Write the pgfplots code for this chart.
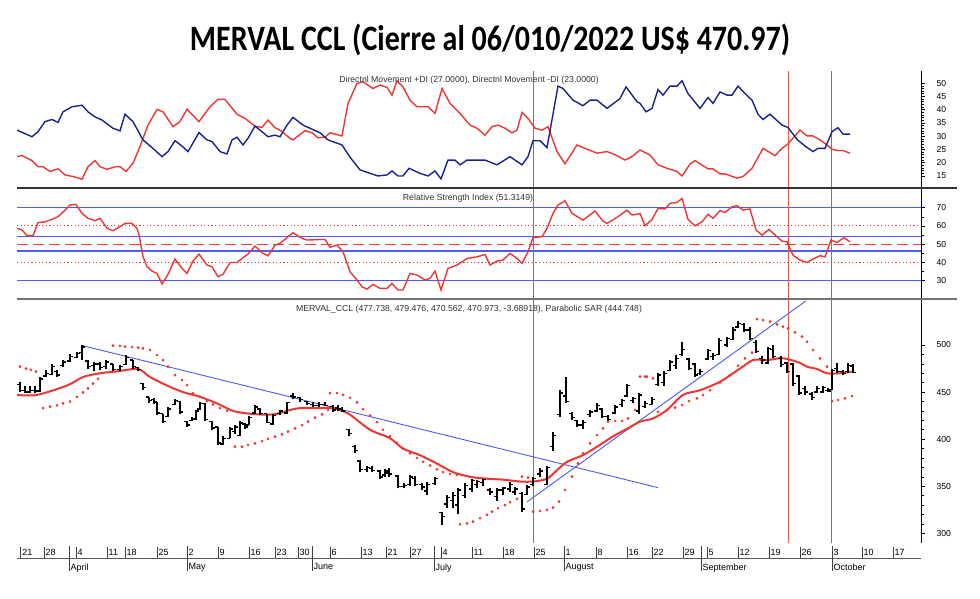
\documentclass[border=0pt]{standalone}
\usepackage{graphicx}
\usepackage{pgfplots}
\pgfplotsset{compat=1.18}
\usepackage{pgfplotstable}
\usepackage{fontspec}
\setmainfont{Liberation Sans}
\newfontfamily\titlefont{Carlito}

\definecolor{dmiblue}{RGB}{25,35,140}
\definecolor{ired}{RGB}{238,55,50}
\definecolor{lblue}{RGB}{75,92,240}
\definecolor{tblue}{RGB}{70,90,240}
\definecolor{vblue}{RGB}{90,110,250}
\definecolor{vred}{RGB}{242,85,75}

\pgfdeclareplotmark{openmark}{\pgfpathmoveto{\pgfqpoint{-3pt}{0pt}}\pgfpathlineto{\pgfqpoint{0pt}{0pt}}\pgfusepathqstroke}
\pgfdeclareplotmark{closemark}{\pgfpathmoveto{\pgfqpoint{0pt}{0pt}}\pgfpathlineto{\pgfqpoint{3pt}{0pt}}\pgfusepathqstroke}

% x = position in the chart (trading days laid out as in the reference)
\pgfplotstableread{
x o h l c
20 458 461 450 452
25 452 457 449 450
30 450 456 449 452
35 452 457 449 451
40 451 466 450 464
46 467 473 466 470
52 469 480 468 477
57 472 473 466 468
63 478 484 477 482
70 483 490 482 488
77 487 493 486 491
82 492 500 484 498
88 483 484 475 477
94 478 482 472 480
100 480 482 473 476
106 477 484 475 482
113 480 480 472 474
120 474 479 472 477
126 479 489 479 487
133 484 484 475 477
138 476 477 472 474
143 459 460 452 455
149 445 445 438 441
154 442 444 437 439
157 440 440 426 428
163 427 427 417 419
168 424 434 424 432
175 437 443 436 441
180 440 441 427 429
187 419 419 413 415
192 420 424 419 422
196 421 431 420 430
200 432 440 431 438
205 438 438 419 421
212 419 419 410 412
218 413 413 394 396
223 395 403 394 401
230 401 413 401 411
235 408 415 406 413
240 404 419 403 417
245 416 417 411 413
249 415 425 415 423
255 428 436 427 434
260 432 433 426 427
267 427 427 417 418
273 416 427 415 425
280 427 431 426 430
287 428 440 427 439
293 446 449 443 445
300 444 445 440 442
307 440 441 436 438
313 437 440 434 436
319 436 439 434 437
325 437 440 435 436
333 435 436 429 431
338 433 436 430 432
342 432 434 429 430
349 410 411 403 406
355 392 394 385 388
360 377 378 365 368
367 368 372 365 370
372 369 371 365 367
380 366 367 358 360
385 362 368 360 366
389 364 369 360 363
398 361 362 348 350
404 350 353 348 351
410 352 362 350 360
415 358 361 350 352
422 352 353 346 349
427 345 355 341 352
435 353 360 351 358
442 322 323 309 318
447 331 341 327 338
453 335 344 327 340
458 330 348 321 346
465 340 353 337 351
472 347 358 344 356
477 352 357 348 355
483 354 358 350 357
490 346 348 341 344
497 339 348 334 346
503 346 349 341 348
510 347 355 344 352
515 344 349 341 347
522 342 344 323 326
527 341 351 341 349
533 352 360 350 358
540 363 369 360 366
547 352 372 351 370
553 392 408 387 404
560 426 452 424 449
566 446 466 438 440
572 427 429 420 423
577 420 420 413 415
583 415 420 411 418
590 426 431 424 429
597 430 438 429 436
602 432 433 422 424
608 424 426 419 421
615 428 436 427 434
622 437 443 434 441
627 446 459 445 457
633 441 445 438 443
639 430 449 427 447
645 435 441 433 438
652 437 445 436 442
658 458 470 457 468
664 460 472 457 470
670 473 484 472 482
676 478 489 475 486
682 490 503 488 495
689 485 486 473 475
695 480 481 466 468
700 470 475 468 472
708 485 496 484 494
713 488 491 484 489
719 490 507 489 505
727 500 509 498 507
733 506 519 505 516
738 519 526 518 523
744 522 523 514 516
750 516 519 505 507
756 503 505 491 493
762 486 488 480 484
768 481 498 480 496
773 495 500 486 488
781 486 488 477 479
787 481 482 470 472
793 480 481 457 459
799 467 468 447 449
805 454 456 447 450
812 448 450 442 444
817 450 456 449 454
823 450 457 449 455
828 452 454 450 451
832 453 475 452 473
837 475 481 470 472
843 472 473 468 470
848 472 481 470 478
853 477.738 479.476 470.562 470.973
}\ohlc

\pgfplotsset{
  panel/.style={anchor=south west, scale only axis, width=904pt,
    xmin=17, xmax=921, axis x line=none, axis y line=right,
    axis line style={-, black}, xtick=\empty, clip=true,
    tick align=outside, major tick length=4pt, minor tick length=2.5pt,
    tick style={black, line width=0.6pt},
    yticklabel style={font=\fontsize{8.6}{9}\selectfont, xshift=8pt},
    /pgf/number format/assume math mode=true},
}

\begin{document}
\begin{tikzpicture}[x=1pt,y=1pt]
\useasboundingbox (0,0) rectangle (980,599);

\node[anchor=base] at (490,548) {\resizebox{600pt}{26.5pt}{\titlefont\bfseries MERVAL CCL (Cierre al 06/010/2022 US\$ 470.97)}};

% ---- DMI ----
\begin{axis}[panel, at={(17pt,411pt)}, height=117pt, ymin=10.47, ymax=54.6,
  ytick={15,20,...,50}, minor y tick num=4]
\addplot[vblue, line width=1pt] coordinates {(533.7,10.47) (533.7,54.6)};
\addplot[vred, line width=1pt] coordinates {(788.3,10.47) (788.3,54.6)};
\addplot[vblue, line width=1pt] coordinates {(831.7,10.47) (831.7,54.6)};
\addplot[ired, line width=1.4pt] coordinates {
(17,22.3) (22,22.7) (32,20.8) (38,18.5) (43,18.5) (50,16.7) (58,17.7) (65,15.4) (73,14.8) (82,13.8)
(88,18.5) (95,20.8) (100,18.5) (107,17.5) (115,18.5) (120,18.5) (126,16.7) (133,19.8) (140,26.1) (148,34.2)
(157,40.1) (163,39.2) (173,33.6) (180,35.5) (187,40.2) (199,35.5) (210,41.1) (218,43.9) (225,43.9) (237,38.3)
(245,36.7) (255,33.8) (262,33.3) (268,36.1) (275,33.2) (280,32.3) (290,29.2) (293,28.6) (305,32.1) (312,31.3)
(318,29.4) (325,29.6) (330,31.3) (342,30.1) (348,42.4) (357,49.9) (363,50.5) (373,48) (380,49.3) (387,48.4)
(392,45.5) (397,50.9) (403,48.6) (410,43.6) (417,41.1) (428,41.1) (435,38.6) (442,48) (450,42.4) (460,38.6)
(470,34.2) (477,33) (485,30.4) (492,33.6) (498,34.2) (505,33) (512,31.3) (517,32.3) (522,39) (528,36.7)
(535,33) (542,32.3) (548,33.6) (557,24.2) (565,19.6) (577,26.7) (587,25.1) (597,23.6) (607,24.2) (615,23)
(625,21) (632,22.3) (640,24.8) (650,22.9) (658,19.2) (667,17.9) (677,16.7) (682,15) (690,19.5) (695,20.8)
(708,17.7) (713,17.7) (720,15.8) (725,15.8) (737,14.2) (743,14.8) (752,17.9) (763,25.4) (775,22.7) (782,25.4)
(788,27.1) (800,32.3) (807,30.1) (813,30.1) (820,28.6) (827,26.7) (832,25.1) (837,24.6) (843,24.6) (850,23.6)};
\addplot[dmiblue, line width=1.4pt] coordinates {
(17,32.3) (32,29.8) (38,31.7) (45,35.5) (52,36.3) (58,35.2) (63,39.2) (72,41.1) (82,41.7) (88,39.2)
(95,37.3) (102,36.1) (113,33) (120,32) (125,38.3) (133,35.5) (143,28.6) (153,25.4) (162,22.3) (168,24.2)
(175,28.3) (182,26.3) (188,24.2) (199,31.4) (207,28.6) (212,28) (220,24.2) (227,23.3) (232,28.6) (237,29.6)
(243,26.7) (248,29.2) (255,33.8) (262,31.7) (268,29.8) (275,30.4) (280,29.8) (287,34.2) (293,37.1) (303,34.2)
(310,33) (320,31.3) (328,28.6) (342,26.7) (350,22.1) (360,17.3) (370,16) (378,15) (387,15.4) (392,16.9)
(398,15) (403,15) (409,17.9) (420,16) (428,15) (435,16.9) (441,13.9) (448,21) (455,21) (460,19.2)
(467,21) (485,21) (497,19.2) (510,22.3) (522,19.2) (528,22.3) (533,28.3) (540,28.3) (547,25.7) (558,48.9)
(563,48) (573,43.6) (583,41.5) (590,43.6) (597,43.6) (607,40.5) (620,44.2) (626,48.6) (637,43) (640,42.4)
(646,39.2) (652,40.5) (658,47.6) (663,45.5) (670,48.9) (677,48.9) (682,50.9) (688,46.1) (700,40.5) (708,44.6)
(713,42.4) (720,46.7) (727,45.5) (732,45.5) (738,48.9) (745,46.1) (752,43.6) (758,38.3) (763,36.3) (770,38.3)
(782,34.2) (788,33.3) (797,28.8) (805,26.3) (813,24.2) (818,25.4) (825,25.4) (832,31.7) (838,33.2) (843,30.8) (850,30.8)};
\end{axis}

% ---- RSI ----
\begin{axis}[panel, at={(17pt,300pt)}, height=111pt, ymin=20, ymax=80.8,
  ytick={30,40,...,70}, minor y tick num=1]
\addplot[lblue, line width=1.4pt] coordinates {(17,70) (921,70)};
\addplot[lblue, line width=1.4pt] coordinates {(17,54.2) (921,54.2)};
\addplot[lblue, line width=1.4pt] coordinates {(17,46.2) (921,46.2)};
\addplot[lblue, line width=1.4pt] coordinates {(17,30) (921,30)};
\addplot[ired, line width=1pt, dash pattern=on 1.2pt off 2.4pt] coordinates {(17,60) (921,60)};
\addplot[ired, line width=1pt, dash pattern=on 1.2pt off 2.4pt] coordinates {(17,40) (921,40)};
\addplot[ired, line width=1pt, dash pattern=on 11pt off 5pt] coordinates {(17,50) (921,50)};
\addplot[vblue, line width=1pt] coordinates {(533.7,20) (533.7,80.8)};
\addplot[vred, line width=1pt] coordinates {(788.3,20) (788.3,80.8)};
\addplot[vblue, line width=1pt] coordinates {(831.7,20) (831.7,80.8)};
\addplot[ired, line width=1.4pt] coordinates {
(17,58.7) (22,57.8) (27,54.7) (33,54.7) (38,61.8) (45,62.3) (52,63.6) (58,65.1) (65,68.7) (70,71.5)
(76,71.8) (82,66.9) (88,64.2) (95,62.9) (100,64.2) (107,58.7) (113,57.4) (120,59.6) (125,61.4) (132,61.4)
(137,58.7) (139,55) (143,43.2) (147,37.7) (152,35.3) (157,34) (162,28.2) (168,33.5) (175,41.9) (182,36.8)
(187,34) (193,40.8) (199,44.6) (207,38.6) (212,37.7) (218,32.2) (223,33.5) (230,40) (237,40) (243,42.6)
(248,44.6) (255,49) (262,45.3) (268,43.7) (275,49.5) (280,50.5) (287,53.6) (293,56.3) (302,53.2) (307,52.3)
(320,52.6) (325,52.6) (330,48.3) (337,49.5) (343,45.9) (350,34.9) (357,30.4) (362,26.7) (367,25.4) (373,28)
(380,25.8) (387,25.8) (392,28.5) (398,24.9) (403,24.9) (410,34) (417,33.1) (425,30.4) (430,31.3) (435,35.3)
(441,24.9) (448,36.8) (457,38.6) (467,42.2) (477,43.1) (485,44.4) (490,38.6) (497,40.8) (503,41.3) (510,45)
(517,42.2) (522,39.5) (528,45.9) (533,53.6) (542,54.1) (547,58.7) (553,66.9) (558,71.5) (565,73.8) (572,66.9)
(583,63.2) (595,68.2) (603,62.7) (607,61.4) (618,65.1) (627,68.7) (632,66) (638,66.5) (640,66.9) (645,60.1)
(652,63.6) (658,69.6) (665,69.3) (670,72.4) (677,72.9) (682,75.1) (688,63.6) (695,60.1) (702,62.3) (708,66.4)
(713,64.2) (720,68.4) (725,67.4) (732,70.5) (737,71.1) (743,68.7) (750,69.3) (756,57.8) (762,55) (769,58.1)
(777,54.1) (782,51.7) (787,51.3) (793,44) (800,41.3) (807,40) (813,41.9) (820,43.7) (825,43.1) (831,52.3)
(837,51) (844,53.6) (850,51.3)};
\end{axis}

% ---- Price ----
\begin{axis}[panel, at={(17pt,56pt)}, height=244pt, ymin=289.7, ymax=548.9,
  ytick={300,350,...,500}, minor y tick num=4]
\addplot[vblue, line width=1pt] coordinates {(533.7,285) (533.7,548.9)};
\addplot[vred, line width=1pt] coordinates {(788.3,285) (788.3,548.9)};
\addplot[vblue, line width=1pt] coordinates {(831.7,285) (831.7,548.9)};
\addplot[tblue, line width=0.9pt] coordinates {(82.7,499.3) (658,348.5)};
\addplot[tblue, line width=0.9pt] coordinates {(527.3,333.6) (805.7,546.7)};
% moving average
\addplot[ired, line width=2pt, smooth] coordinates {
(17,447) (37,447) (67,457) (83,466) (100,470) (117,472) (138,474.5) (150,466) (167,457) (183,450)
(200,445) (217,438) (233,430) (250,427) (267,426) (277,427) (290,431) (300,433) (317,433) (330,433)
(340,431) (350,426) (370,410) (390,401) (403,390) (420,383) (437,374) (453,365) (470,360) (487,358)
(503,357) (520,355) (533,355) (547,358) (557,367) (567,376) (583,383) (600,394) (613,403) (627,411)
(640,418.6) (653,422) (667,431) (683,447) (700,452) (720,461) (740,475) (753,484) (767,484) (780,486)
(788,485) (800,481) (807,477) (817,474.5) (827,470) (840,470) (853,472)};
% parabolic SAR
\addplot[only marks, mark=*, mark size=1.2pt, ired, draw=none] coordinates {
(20,477) (26,475) (31,473.5) (36,471.7)
(43,433) (50,434.5) (57,436) (63,438) (70,440) (77,445) (83,449.6) (88,454) (93,459) (98,464)
(113,499.3) (120,499) (125,498.2) (132,497.9) (138,497.2) (143,496.5) (150,494.7) (157,489.4) (163,484) (168,477)
(175,468) (182,462.8) (187,457.5) (193,448.7) (200,445) (207,440.5) (213,437) (220,433) (227,430)
(235,392) (242,392) (248,393.8) (255,395.6) (262,398) (268,400.2) (275,402.7) (282,405.1) (288,408) (295,411.5)
(302,415) (308,418.6) (315,422.8) (322,426.4) (328,431)
(330,449) (337,449) (343,447) (350,444) (357,439) (363,432) (370,425) (377,418) (383,410) (390,403)
(397,396) (403,390) (410,385) (417,380) (423,376) (430,372) (437,368) (443,365) (450,363) (457,362)
(460,309.6) (467,310.6) (473,312.4) (480,316) (487,319.5) (492,323) (498,326.6) (505,330) (510,333) (517,336.5)
(522,360.2) (528,359.1)
(533,323) (540,323.7) (547,324.8) (553,327.3) (559,333.6) (565,346) (572,360.2) (578,374.3) (583,385) (590,395.6)
(597,404.4) (603,411.5) (608,418.6) (615,419.3) (622,419.3) (628,422) (635,431)
(640,466.4) (645,466.4) (647,466.4) (653,464.6)
(658,429) (667,431) (675,433.5) (682,436.3) (689,440.5) (697,443.3) (703,446.9) (710,452) (720,460.4) (730,468)
(738,478) (745,485.8) (752,492)
(757,527.6) (763,526.5) (770,524.8) (777,522) (783,519.5) (788,517.7) (795,513.5) (802,508.9) (807,503.5) (813,494.7)
(820,485.8) (827,477)
(832,440.5) (838,441.6) (845,443.4) (852,445.8)};
% OHLC bars
\addplot[forget plot, draw=none, mark=none, error bars/.cd, y dir=plus, y explicit,
  error mark=none, error bar style={draw=black, solid, line width=1.4pt}]
  table[x=x, y=l, y error expr=\thisrow{h}-\thisrow{l}] {\ohlc};
\addplot[only marks, mark=openmark, mark options={black, line width=1.4pt}] table[x=x, y=o] {\ohlc};
\addplot[only marks, mark=closemark, mark options={black, line width=1.4pt}] table[x=x, y=c] {\ohlc};
\end{axis}

% ---- date strip ----
\begin{axis}[at={(17pt,40.7pt)}, anchor=south west, scale only axis, width=904pt, height=14pt,
  xmin=17, xmax=921, ymin=0, ymax=1, axis y line=none, axis x line=bottom,
  axis line style={-, black!65, line width=1.2pt},
  tick align=inside, major tick length=11.6pt, tick style={black!75, line width=0.8pt},
  xtick={20.7,44,76,107,125,157,187,218,249,275,298,330,361,386,410,441,472,503,534,564,596,627,652,683,707,738,769,800,832,862,893},
  xticklabels={21,28,4,11,18,25,2,9,16,23,30,6,13,21,27,4,11,18,25,1,8,16,22,29,5,12,19,26,3,10,17},
  xticklabel style={anchor=south west, font=\fontsize{9}{10}\selectfont, inner sep=1.5pt, yshift=1pt},
  extra x ticks={69,187,312,434,564,701,832},
  extra x tick labels={April,May,June,July,August,September,October},
  extra x tick style={major tick length=25pt, tick align=center,
    xticklabel style={anchor=north west, yshift=8pt}}]
\addplot[draw=none] coordinates {(17,0) (921,1)};
\end{axis}

% separators and panel headings
\draw[black!80, line width=1.2pt] (17,411) -- (957,411);
\draw[black!55, line width=1.2pt] (17,300) -- (957,300);
\node[font=\fontsize{8.7}{9}\selectfont, text=black!80] at (469,519) {Directnl Movement +DI (27.0000), Directnl Movement -DI (23.0000)};
\node[font=\fontsize{8.7}{9}\selectfont, text=black!80] at (468,401) {Relative Strength Index (51.3149)};
\node[font=\fontsize{8.7}{9}\selectfont, text=black!80] at (469,290) {MERVAL\_CCL (477.738, 479.476, 470.562, 470.973, -3.68918), Parabolic SAR (444.748)};
\end{tikzpicture}
\end{document}
